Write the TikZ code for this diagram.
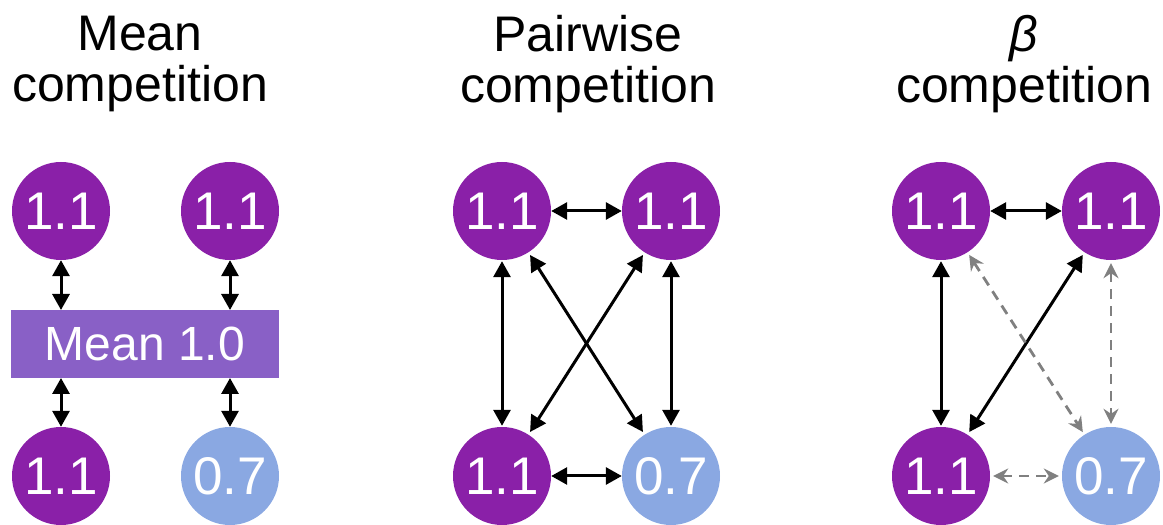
\documentclass[tikz,border=0pt]{standalone}
\usepackage{fontspec}
\setmainfont{Liberation Sans}
\newfontfamily\greekfont{Liberation Sans}
\usetikzlibrary{arrows.meta}
\definecolor{nodepurple}{RGB}{138,32,168}
\definecolor{nodeblue}{RGB}{138,168,226}
\definecolor{meanpurple}{RGB}{137,96,198}
\definecolor{weakgray}{RGB}{128,128,128}
\tikzset{
  species/.style={circle,fill=nodepurple,text=white,minimum size=98pt,inner sep=0pt,
    font=\fontsize{53}{53}\selectfont},
  weakspecies/.style={species,fill=nodeblue},
  meanbox/.style={rectangle,fill=meanpurple,text=white,minimum width=268pt,minimum height=68pt,
    inner sep=0pt,font=\fontsize{48}{48}\selectfont},
  title/.style={align=center,font=\fontsize{50}{51}\selectfont},
  strong/.style={line width=3pt,black,{Triangle[length=16pt,width=17pt]}-{Triangle[length=16pt,width=17pt]}},
  weak/.style={line width=2.8pt,weakgray,dash pattern=on 10pt off 7pt,
    {Stealth[length=15pt,width=15pt,inset=5pt]}-{Stealth[length=15pt,width=15pt,inset=5pt]}},
}
\begin{document}
\begin{tikzpicture}[x=1pt,y=1pt]
\useasboundingbox (0,0) rectangle (1163,525);

% titles
\node[title] (t1) at (140,461) {Mean\\competition};
\node[title] (t2) at (588,461) {Pairwise\\competition};
\node[title] (t3) at (1024,461) {{\itshape\greekfont β}\\competition};

% mean competition
\node[species] (a1) at (61,314) {1.1};
\node[species] (a2) at (230,314) {1.1};
\node[species] (a3) at (61,49) {1.1};
\node[weakspecies] (a4) at (230,49) {0.7};
\node[meanbox] (m) at (145,181) {Mean 1.0};
\coordinate (m1t) at (61,215);
\coordinate (m2t) at (230,215);
\coordinate (m1b) at (61,147);
\coordinate (m2b) at (230,147);
\draw[strong] (a1.south) -- (m1t);
\draw[strong] (a2.south) -- (m2t);
\draw[strong] (m1b) -- (a3.north);
\draw[strong] (m2b) -- (a4.north);

% pairwise competition
\node[species] (b1) at (502,314) {1.1};
\node[species] (b2) at (671,314) {1.1};
\node[species] (b3) at (502,49) {1.1};
\node[weakspecies] (b4) at (671,49) {0.7};
\draw[strong] (b1) -- (b2);
\draw[strong] (b3) -- (b4);
\draw[strong,shorten <=1pt,shorten >=1pt] (b1) -- (b3);
\draw[strong,shorten <=1pt,shorten >=1pt] (b2) -- (b4);
\draw[strong,shorten <=3pt,shorten >=3pt] (b1) -- (b4);
\draw[strong,shorten <=3pt,shorten >=3pt] (b2) -- (b3);

% beta competition
\node[species] (c1) at (941,314) {1.1};
\node[species] (c2) at (1111,314) {1.1};
\node[species] (c3) at (941,49) {1.1};
\node[weakspecies] (c4) at (1111,49) {0.7};
\draw[strong] (c1) -- (c2);
\draw[strong,shorten <=1pt,shorten >=1pt] (c1) -- (c3);
\draw[strong,shorten <=3pt,shorten >=3pt] (c2) -- (c3);
\draw[weak,shorten <=3pt,shorten >=3pt] (c1) -- (c4);
\draw[weak,shorten <=3pt,shorten >=3pt] (c2) -- (c4);
\draw[weak,shorten <=3pt,shorten >=3pt] (c3) -- (c4);
\end{tikzpicture}
\end{document}
